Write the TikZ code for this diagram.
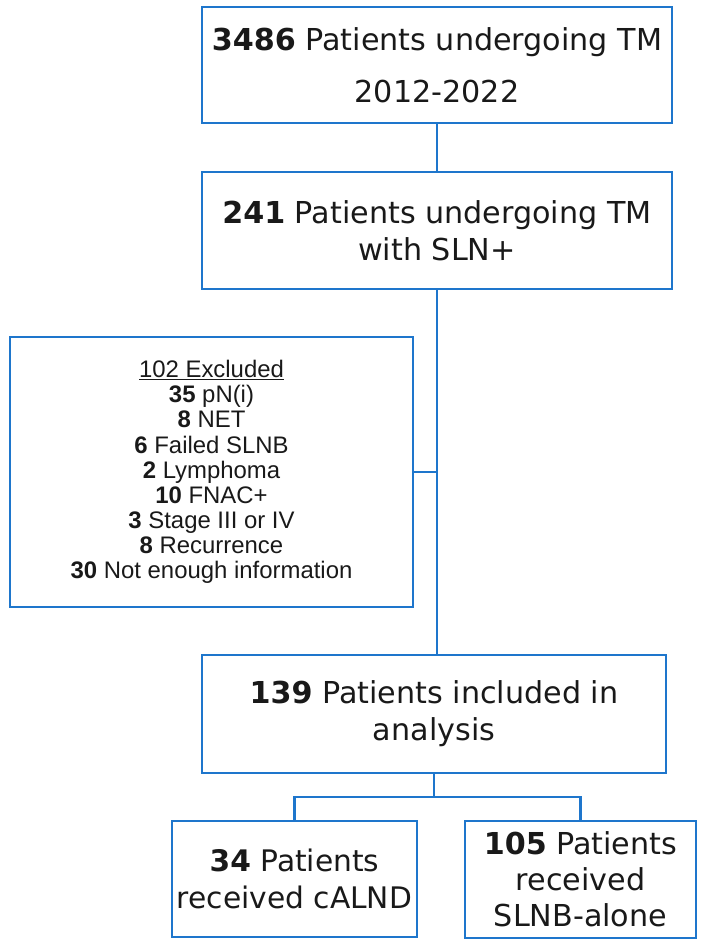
\documentclass[tikz,border=0pt]{standalone}
\usepackage{fontspec}
\setmainfont{DejaVu Sans}
\newfontfamily\exfont{Liberation Sans}
\definecolor{lineblue}{RGB}{30,118,204}
\definecolor{txt}{RGB}{25,25,25}
\begin{document}
\begin{tikzpicture}[x=1bp,y=-1bp,
  box/.style={draw=lineblue,line width=2.7bp,rectangle,inner sep=0pt,align=center,text=txt,
    font=\fontsize{30.3}{37}\selectfont},
  exbox/.style={box,font=\exfont\fontsize{24}{25.25}\selectfont},
  conn/.style={draw=lineblue,line width=2.7bp}]
\useasboundingbox (0,0) rectangle (709,946);
\node[box,minimum width=470bp,minimum height=116bp] (b1) at (437,65)
  {\textbf{3486} Patients undergoing TM\\[15bp]2012-2022};
\node[box,minimum width=470bp,minimum height=117bp] (b2) at (437,230.5)
  {\textbf{241} Patients undergoing TM\\with SLN+};
\node[exbox,minimum width=403bp,minimum height=270bp] (b3) at (211.5,472)
  {\underline{102 Excluded}\\
   \textbf{35} pN(i)\\
   \textbf{8} NET\\
   \textbf{6} Failed SLNB\\
   \textbf{2} Lymphoma\\
   \textbf{10} FNAC+\\
   \textbf{3} Stage III or IV\\
   \textbf{8} Recurrence\\
   \textbf{30} Not enough information};
\node[box,minimum width=464bp,minimum height=118bp] (b4) at (434,714)
  {\textbf{139} Patients included in\\analysis};
\node[box,minimum width=245bp,minimum height=116bp,font=\fontsize{29.8}{37}\selectfont] (b5) at (294.5,879)
  {\textbf{34} Patients\\received cALND};
\node[box,minimum width=231bp,minimum height=117bp,font=\fontsize{30.3}{36}\selectfont] (b6) at (580.5,879.5)
  {\textbf{105} Patients\\received\\SLNB-alone};
\coordinate (split) at (434,797);
\draw[conn] (b1.south) -- (b2.north);
\draw[conn] (b2.south) -- (b2.south |- b4.north);
\draw[conn] (b3.east) -- (b3.east -| b2.south);
\draw[conn] (b4.south) -- (split);
\draw[conn] (b5.north) |- (split) -| (b6.north);
\end{tikzpicture}
\end{document}
